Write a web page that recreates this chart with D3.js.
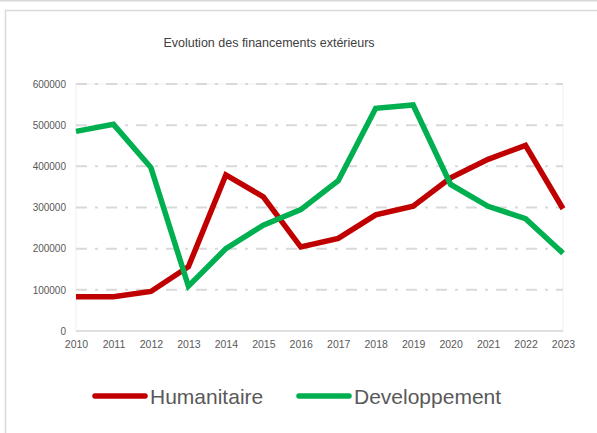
<!DOCTYPE html>
<html>
<head>
<meta charset="utf-8">
<script src="https://cdn.jsdelivr.net/npm/d3@7"></script>
<style>
  body { margin: 0; background: #fff; }
  svg { display: block; font-family: "Liberation Sans", Arial, sans-serif; }
</style>
</head>
<body>
<div id="chart"></div>
<script>
// donnees
var years = [2010, 2011, 2012, 2013, 2014, 2015, 2016, 2017, 2018, 2019, 2020, 2021, 2022, 2023];
var humanitaire = [83000, 83000, 96000, 156000, 379000, 326000, 204000, 225000, 282000, 303000, 372000, 417000, 451000, 297000];
var developpement = [485000, 502000, 397000, 109000, 200000, 257000, 295000, 365000, 541000, 549000, 356000, 303000, 273000, 189000];
var yTicks = [0, 100000, 200000, 300000, 400000, 500000, 600000];
var seriesNames = ["Humanitaire", "Developpement"];
var seriesColors = ["#C00000", "#00B050"];

var width = 597, height = 433;
var svg = d3.select("#chart").append("svg")
  .attr("width", width).attr("height", height);

// cadre du graphique
svg.append("line").attr("x1", 0).attr("x2", width).attr("y1", 0.5).attr("y2", 0.5)
  .attr("stroke", "#d9d9d9").attr("stroke-width", 2);
svg.append("rect").attr("x", 5.5).attr("y", 10.5).attr("width", width + 10).attr("height", height)
  .attr("fill", "#fff").attr("stroke", "#d9d9d9").attr("stroke-width", 1.5);

svg.append("text")
  .attr("x", 269).attr("y", 47)
  .attr("text-anchor", "middle")
  .attr("font-size", 12.5).attr("fill", "#404040")
  .text("Evolution des financements extérieurs");

var plot = { left: 76, right: 563, top: 84, bottom: 331 };

var x = d3.scalePoint().domain(years).range([plot.left, plot.right]);
var y = d3.scaleLinear().domain([0, 600000]).range([plot.bottom, plot.top]);

// zone du trace
svg.append("rect")
  .attr("x", plot.left).attr("y", plot.top)
  .attr("width", plot.right - plot.left).attr("height", plot.bottom - plot.top)
  .attr("fill", "none").attr("stroke", "#f0f0f0").attr("stroke-width", 1);

// grille
svg.append("g").selectAll("line")
  .data(yTicks.filter(function(d) { return d > 0; }))
  .enter().append("line")
  .attr("x1", plot.left).attr("x2", plot.right)
  .attr("y1", function(d) { return y(d); }).attr("y2", function(d) { return y(d); })
  .attr("stroke", "#d9d9d9").attr("stroke-width", 2)
  .attr("stroke-dasharray", "11,8,3,8");

// axe horizontal
svg.append("line")
  .attr("x1", plot.left).attr("x2", plot.right)
  .attr("y1", y(0)).attr("y2", y(0))
  .attr("stroke", "#d9d9d9").attr("stroke-width", 1.5);

var yAxis = svg.append("g")
  .attr("transform", "translate(" + (plot.left - 10) + ",0)")
  .call(d3.axisLeft(y).tickValues(yTicks).tickSize(0).tickPadding(0).tickFormat(d3.format("d")));
yAxis.select(".domain").remove();
yAxis.selectAll("text").attr("font-size", 10).attr("fill", "#595959")
  .attr("font-family", "Liberation Sans, Arial, sans-serif");

var xAxis = svg.append("g")
  .attr("transform", "translate(0," + (plot.bottom + 10) + ")")
  .call(d3.axisBottom(x).tickSize(0).tickPadding(0).tickFormat(d3.format("d")));
xAxis.select(".domain").remove();
xAxis.selectAll("text").attr("font-size", 10.5).attr("fill", "#595959")
  .attr("font-family", "Liberation Sans, Arial, sans-serif");

// courbes
var line = d3.line()
  .x(function(d, i) { return x(years[i]); })
  .y(function(d) { return y(d); });

[humanitaire, developpement].forEach(function(values, k) {
  svg.append("path")
    .datum(values)
    .attr("d", line)
    .attr("fill", "none")
    .attr("stroke", seriesColors[k])
    .attr("stroke-width", 5.5)
    .attr("stroke-linejoin", "miter");
});

// legende
var legendX = [93, 297];
var legend = svg.append("g").selectAll("g")
  .data(seriesNames)
  .enter().append("g")
  .attr("transform", function(d, i) { return "translate(" + legendX[i] + ",396)"; });
legend.append("line")
  .attr("x1", 2).attr("x2", 52).attr("y1", 0).attr("y2", 0)
  .attr("stroke", function(d, i) { return seriesColors[i]; })
  .attr("stroke-width", 5.5).attr("stroke-linecap", "round");
legend.append("text")
  .attr("x", 57).attr("y", 7.5)
  .attr("font-size", 21).attr("fill", "#595959")
  .text(function(d) { return d; });
</script>
</body>
</html>
